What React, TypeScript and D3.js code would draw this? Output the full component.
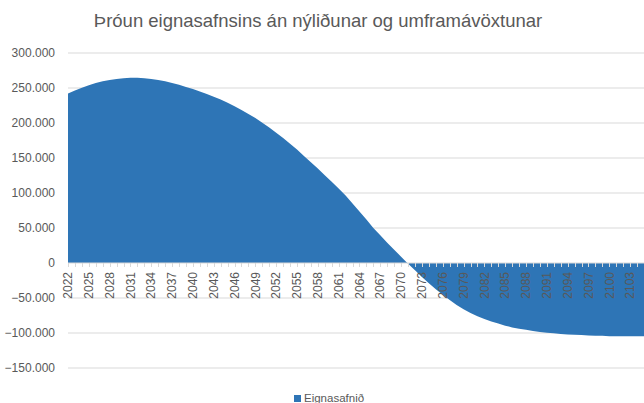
import { useEffect, useRef } from "react";
import * as d3 from "d3";

const title = "Þróun eignasafnsins án nýliðunar og umframávöxtunar";
const seriesName = "Eignasafnið";

const years: number[] = d3.range(2022, 2106);

// Eignasafnið (one value per year 2022-2105)
const values: number[] = [
  242000, 246500, 250500, 254000, 257000, 259500, 261500, 263000, 264000, 264500,
  264500, 264000, 263000, 261500, 259500, 257000, 254500, 251500, 248500, 245000,
  241500, 237500, 233500, 229000, 224000, 218500, 213000, 207000, 200500, 193500,
  186000, 178500, 170500, 162000, 153000, 144000, 135000, 125500, 116000, 106500,
  96500, 85000, 73500, 62000, 50000, 39500, 29000, 19000, 9000, -1000,
  -10500, -20000, -29000, -37500, -45500, -53000, -60000, -66000, -71500, -76000,
  -80000, -83500, -86500, -89500, -92000, -94000, -95500, -97000, -98500, -99500,
  -100500, -101500, -102000, -102500, -103000, -103500, -104000, -104000, -104500, -104500,
  -104500, -104500, -104500, -104500,
];

const yTicks: number[] = [-150000, -100000, -50000, 0, 50000, 100000, 150000, 200000, 250000, 300000];

const fmt = (v: number) => d3.format(",")(v).replace(/,/g, ".");

export default function App() {
  const ref = useRef<SVGSVGElement>(null);

  useEffect(() => {
    if (!ref.current) return;
    const width = 644;
    const height = 403;
    const left = 68;
    const right = 644;
    const top = 53;
    const bottom = 368;
    const font = "'Liberation Sans', Arial, sans-serif";
    const textColor = "#595959";

    const svg = d3.select(ref.current);
    svg.selectAll("*").remove();
    svg.attr("width", width).attr("height", height);

    svg.append("rect").attr("width", width).attr("height", height).attr("fill", "#fff");

    const x = d3
      .scalePoint<number>()
      .domain(years)
      .range([left, right])
      .padding(0);

    const y = d3.scaleLinear().domain([-150000, 300000]).range([bottom, top]);

    // gridlines
    svg
      .append("g")
      .selectAll("line")
      .data(yTicks.filter((t) => t !== 0))
      .join("line")
      .attr("x1", left)
      .attr("x2", right)
      .attr("y1", (d) => y(d))
      .attr("y2", (d) => y(d))
      .attr("stroke", "#d9d9d9")
      .attr("stroke-width", 1);

    // y labels
    svg
      .append("g")
      .selectAll("text")
      .data(yTicks)
      .join("text")
      .attr("x", 55)
      .attr("y", (d) => y(d))
      .attr("dy", "0.35em")
      .attr("text-anchor", "end")
      .attr("font-family", font)
      .attr("font-size", 12)
      .attr("fill", textColor)
      .text((d) => fmt(d));

    // area
    const area = d3
      .area<number>()
      .x((_, i) => x(years[i]) ?? 0)
      .y0(y(0))
      .y1((d) => y(d));

    svg.append("path").datum(values).attr("fill", "#2e75b6").attr("d", area);

    // category axis
    const axis = svg.append("g");
    axis
      .append("line")
      .attr("x1", left)
      .attr("x2", right)
      .attr("y1", y(0))
      .attr("y2", y(0))
      .attr("stroke", "#d9d9d9")
      .attr("stroke-width", 1);

    axis
      .selectAll("line.tick")
      .data(years)
      .join("line")
      .attr("class", "tick")
      .attr("x1", (d) => Math.round(x(d) ?? 0) + 0.5)
      .attr("x2", (d) => Math.round(x(d) ?? 0) + 0.5)
      .attr("y1", y(0))
      .attr("y2", y(0) + 4)
      .attr("stroke", "#d9d9d9")
      .attr("stroke-width", 1);

    axis
      .selectAll("text")
      .data(years.filter((yr) => (yr - 2022) % 3 === 0))
      .join("text")
      .attr("transform", (d) => `translate(${x(d)},${y(0) + 9}) rotate(-90)`)
      .attr("text-anchor", "end")
      .attr("dy", "0.35em")
      .attr("font-family", font)
      .attr("font-size", 12)
      .attr("fill", textColor)
      .text((d) => String(d));

    // title
    svg
      .append("text")
      .attr("x", 318)
      .attr("y", 27)
      .attr("text-anchor", "middle")
      .attr("font-family", font)
      .attr("font-size", 18.5)
      .attr("fill", textColor)
      .text(title);

    // legend
    const legend = svg.append("g").attr("transform", "translate(294,395)");
    legend.append("rect").attr("width", 7).attr("height", 7).attr("fill", "#2e75b6");
    legend
      .append("text")
      .attr("x", 10)
      .attr("y", 7)
      .attr("font-family", font)
      .attr("font-size", 11.5)
      .attr("fill", textColor)
      .text(seriesName);
  }, []);

  return (
    <div style={{ position: "absolute", left: 0, top: 0 }}>
      <svg ref={ref} style={{ display: "block" }} />
    </div>
  );
}
